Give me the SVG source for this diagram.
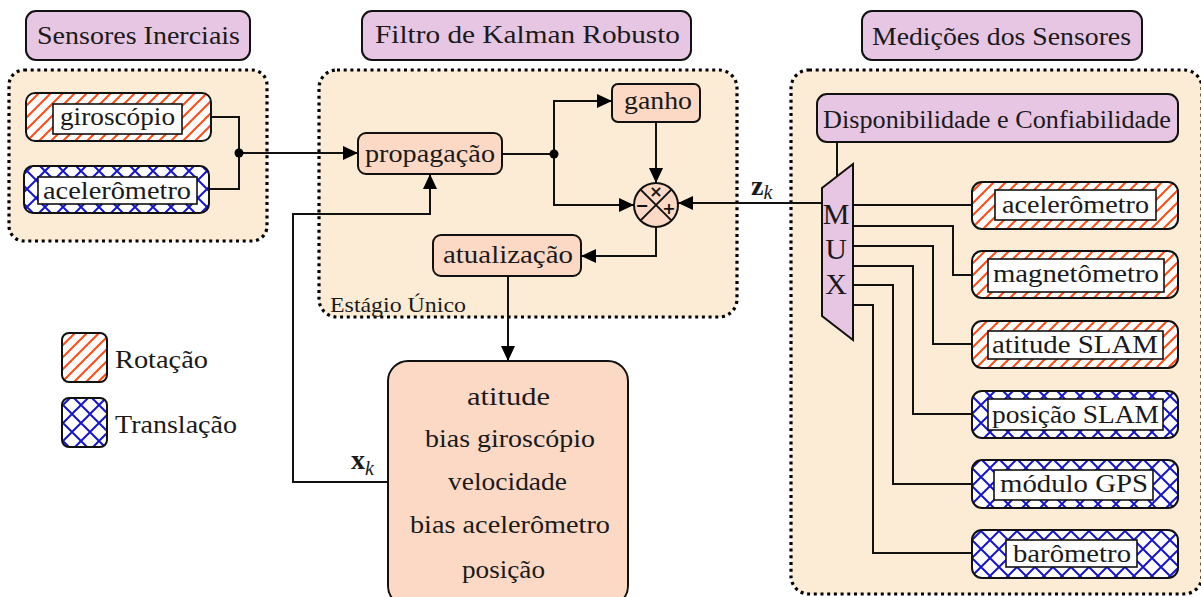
<svg xmlns="http://www.w3.org/2000/svg" width="1201" height="597" viewBox="0 0 1201 597" font-family="'Liberation Serif', serif">
<style>
.t{font-family:'Liberation Serif',serif;font-size:26px;fill:#1a1a1a;text-anchor:middle}
.s{font-size:22px}
.l{text-anchor:start}
.m{font-size:30px}
.cont{fill:#fdecd5;stroke:#000;stroke-width:3.2;stroke-dasharray:3 3.7}
.title{fill:#e7c6e4;stroke:#111;stroke-width:2}
.node{fill:#fcd9c5;stroke:#111;stroke-width:2}
.rot{fill:url(#prot);stroke:#111;stroke-width:2}
.tra{fill:url(#ptra);stroke:#111;stroke-width:2}
.lab{fill:#fff;stroke:#111;stroke-width:1.6}
.c{fill:none;stroke:#111;stroke-width:2}
.a{marker-end:url(#arr)}
.sg{font-family:'DejaVu Sans',sans-serif;font-size:16px;fill:#111;text-anchor:middle;font-weight:bold}
</style>
<defs>
<pattern id="prot" patternUnits="userSpaceOnUse" width="12" height="12">
<rect width="12" height="12" fill="#fff"/>
<path d="M0,12 L12,0 M-3,3 L3,-3 M9,15 L15,9" stroke="#ff4a10" stroke-width="2"/>
</pattern>
<pattern id="ptra" patternUnits="userSpaceOnUse" width="18" height="18">
<rect width="18" height="18" fill="#fff"/>
<path d="M0,18 L18,0 M0,0 L18,18 M-3,3 L3,-3 M15,21 L21,15 M-3,15 L3,21 M15,-3 L21,3" stroke="#1515d0" stroke-width="2"/>
</pattern>
<marker id="arr" markerUnits="userSpaceOnUse" markerWidth="16" markerHeight="14" refX="15" refY="7" orient="auto">
<path d="M0,0 L15,7 L0,14 z" fill="#000"/>
</marker>
</defs>
<rect width="1201" height="597" fill="#fff"/>

<g id="containers">
<rect id="c-inerciais" class="cont" x="9" y="70" width="258" height="171" rx="15"/>
<rect id="c-filtro" class="cont" x="319" y="70" width="418" height="247" rx="18"/>
<rect id="c-medicoes" class="cont" x="791" y="70" width="411" height="524" rx="18"/>
</g>

<g id="connectors">
<path class="c" d="M211,117 H239 V189 H209"/>
<path class="c a" d="M239,153 H358"/>
<path class="c" d="M502,154 H554"/>
<path class="c a" d="M554,154 V101 H612"/>
<path class="c a" d="M554,154 V205 H634"/>
<path class="c a" d="M656,122 V183"/>
<path class="c a" d="M656,227 V256 H581"/>
<path class="c a" d="M822,203 H678"/>
<path class="c a" d="M508,276 V361"/>
<path class="c a" d="M388,482 H293 V214 H430 V174"/>
<path class="c" d="M837,142 V177"/>
<path class="c" d="M853,205 H972"/>
<path class="c" d="M853,226 H953 V275 H972"/>
<path class="c" d="M853,246 H933 V344 H972"/>
<path class="c" d="M853,266 H913 V414 H972"/>
<path class="c" d="M853,285 H893 V484 H972"/>
<path class="c" d="M853,305 H873 V553 H972"/>
<circle cx="239" cy="153" r="4.5" fill="#000"/>
<circle cx="554" cy="154" r="4.5" fill="#000"/>
<text x="351" y="469" font-family="'Liberation Serif',serif" font-size="28" font-weight="bold" fill="#1a1a1a">x<tspan font-size="20" font-weight="normal" font-style="italic" dy="6">k</tspan></text>
<text x="751" y="195" font-family="'Liberation Serif',serif" font-size="28" font-weight="bold" fill="#1a1a1a">z<tspan font-size="20" font-weight="normal" font-style="italic" dy="4">k</tspan></text>
</g>

<g id="t-inerciais"><rect class="title" x="26" y="11" width="224" height="49" rx="10"/><text class="t" x="138.5" y="44" textLength="203" lengthAdjust="spacingAndGlyphs">Sensores Inerciais</text></g>
<g id="t-filtro"><rect class="title" x="362" y="11" width="329" height="49" rx="10"/><text class="t" x="527.5" y="43" textLength="305" lengthAdjust="spacingAndGlyphs">Filtro de Kalman Robusto</text></g>
<g id="t-medicoes"><rect class="title" x="862" y="11" width="280" height="49" rx="10"/><text class="t" x="1001.5" y="45" textLength="259" lengthAdjust="spacingAndGlyphs">Medições dos Sensores</text></g>

<g id="giroscopio"><rect class="rot" x="26" y="93" width="185" height="48" rx="9"/><rect class="lab" x="53" y="104" width="129" height="30"/><text class="t" x="117.5" y="125" textLength="115" lengthAdjust="spacingAndGlyphs">giroscópio</text></g>
<g id="acelerometro-imu"><rect class="tra" x="24" y="166" width="185" height="47" rx="9"/><rect class="lab" x="38" y="177" width="159" height="27"/><text class="t" x="117" y="199" textLength="148" lengthAdjust="spacingAndGlyphs">acelerômetro</text></g>

<g id="propagacao"><rect class="node" x="358" y="133" width="144" height="41" rx="8"/><text class="t" x="430" y="162" textLength="130" lengthAdjust="spacingAndGlyphs">propagação</text></g>
<g id="ganho"><rect class="node" x="612" y="84" width="88" height="38" rx="6"/><text class="t" x="658" y="109" textLength="68" lengthAdjust="spacingAndGlyphs">ganho</text></g>
<g id="soma">
<circle cx="656" cy="205" r="22" fill="#fcd9c5" stroke="#111" stroke-width="2"/>
<path d="M640.4,189.4 L671.6,220.6 M671.6,189.4 L640.4,220.6" stroke="#111" stroke-width="2"/>
<text class="sg" x="656" y="197">×</text>
<text class="sg" x="642" y="211">−</text>
<text class="sg" x="669" y="214">+</text>
</g>
<g id="atualizacao"><rect class="node" x="433" y="235" width="148" height="41" rx="8"/><text class="t" x="508" y="263" textLength="130" lengthAdjust="spacingAndGlyphs">atualização</text></g>
<g id="estagio"><text class="t s" x="398" y="312" textLength="136" lengthAdjust="spacingAndGlyphs">Estágio Único</text></g>

<g id="estado"><rect class="node" x="388" y="361" width="240" height="245" rx="20"/>
<text class="t" x="508.5" y="405" textLength="83" lengthAdjust="spacingAndGlyphs">atitude</text>
<text class="t" x="510" y="447" textLength="170" lengthAdjust="spacingAndGlyphs">bias giroscópio</text>
<text class="t" x="507.5" y="490" textLength="119" lengthAdjust="spacingAndGlyphs">velocidade</text>
<text class="t" x="510" y="533" textLength="200" lengthAdjust="spacingAndGlyphs">bias acelerômetro</text>
<text class="t" x="503.5" y="578" textLength="83" lengthAdjust="spacingAndGlyphs">posição</text>
</g>

<g id="legenda-rotacao"><rect class="rot" x="62" y="333" width="45" height="49" rx="7"/><text class="t l" x="115" y="368" textLength="93" lengthAdjust="spacingAndGlyphs">Rotação</text></g>
<g id="legenda-translacao"><rect class="tra" x="62" y="398" width="45" height="49" rx="7"/><text class="t l" x="115" y="433" textLength="122" lengthAdjust="spacingAndGlyphs">Translação</text></g>

<g id="disponibilidade"><rect class="title" x="817" y="94" width="361" height="48" rx="10"/><text class="t" x="997" y="128" textLength="348" lengthAdjust="spacingAndGlyphs">Disponibilidade e Confiabilidade</text></g>
<g id="mux"><polygon points="822,188 853,164 853,340 822,316" fill="#e7c6e4" stroke="#111" stroke-width="2"/>
<text class="t m" x="836" y="224">M</text>
<text class="t m" x="836" y="259">U</text>
<text class="t m" x="836" y="294">X</text>
</g>

<g id="acelerometro"><rect class="rot" x="972" y="182" width="206" height="47" rx="10"/><rect class="lab" x="995" y="190" width="161" height="30"/><text class="t" x="1075.5" y="213" textLength="147" lengthAdjust="spacingAndGlyphs">acelerômetro</text></g>
<g id="magnetometro"><rect class="rot" x="972" y="251" width="206" height="47" rx="10"/><rect class="lab" x="988" y="259" width="176" height="33"/><text class="t" x="1076" y="282" textLength="166" lengthAdjust="spacingAndGlyphs">magnetômetro</text></g>
<g id="atitude-slam"><rect class="rot" x="972" y="321" width="206" height="47" rx="10"/><rect class="lab" x="988" y="331" width="175" height="28"/><text class="t" x="1075" y="353" textLength="166" lengthAdjust="spacingAndGlyphs">atitude SLAM</text></g>
<g id="posicao-slam"><rect class="tra" x="972" y="391" width="206" height="47" rx="10"/><rect class="lab" x="988" y="399" width="175" height="31"/><text class="t" x="1075.5" y="423" textLength="167" lengthAdjust="spacingAndGlyphs">posição SLAM</text></g>
<g id="gps"><rect class="tra" x="972" y="460" width="206" height="48" rx="10"/><rect class="lab" x="994" y="470" width="159" height="30"/><text class="t" x="1074" y="492" textLength="148" lengthAdjust="spacingAndGlyphs">módulo GPS</text></g>
<g id="barometro"><rect class="tra" x="972" y="530" width="206" height="48" rx="10"/><rect class="lab" x="1006" y="540" width="131" height="27"/><text class="t" x="1072" y="562" textLength="118" lengthAdjust="spacingAndGlyphs">barômetro</text></g>
</svg>
